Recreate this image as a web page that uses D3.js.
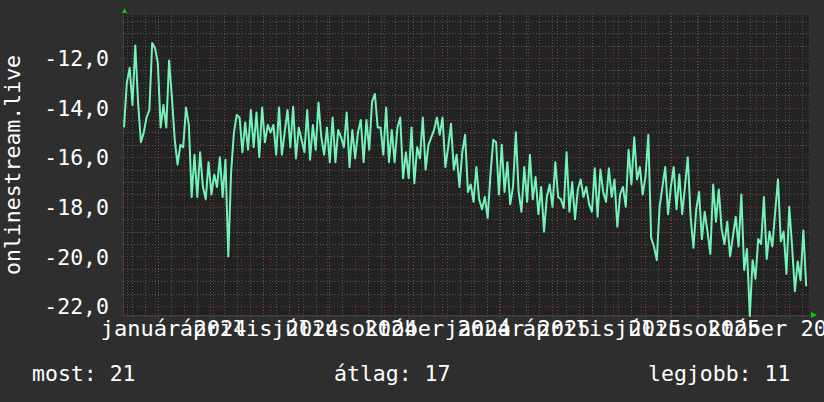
<!DOCTYPE html>
<html>
<head>
<meta charset="utf-8">
<script src="https://cdn.jsdelivr.net/npm/d3@7/dist/d3.min.js"></script>
<style>
  html, body { margin: 0; padding: 0; background: #2e2e2e; }
  svg { display: block; }
  text { font-family: "DejaVu Sans Mono", monospace; fill: #ffffff; }
</style>
</head>
<body>
<svg id="chart" width="824" height="402"></svg>
<script>
// ---- data ----
const startDate = "2023-10-29";
const stepDays = 3;
const values = [
  -14.8, -13.0, -12.4, -13.9, -11.5, -13.8, -15.4, -15.0, -14.4, -14.1,
  -11.4, -11.6, -12.2, -14.8, -13.9, -14.8, -12.1, -13.6, -15.3, -16.3,
  -15.5, -15.6, -14.0, -14.7, -17.6, -15.9, -17.6, -15.8, -17.2, -17.7,
  -16.2, -17.5, -16.7, -17.2, -16.0, -17.6, -16.1, -20.0, -16.6, -15.0,
  -14.3, -14.4, -15.8, -14.6, -15.7, -14.1, -15.6, -14.2, -16.0, -14.0,
  -15.4, -14.7, -15.0, -14.7, -15.9, -14.0, -15.9, -15.0, -14.1, -15.6,
  -13.97, -16.05, -14.8, -15.3, -15.8, -14.1, -16.1, -14.7, -15.7, -13.8,
  -15.2, -15.9, -14.8, -16.2, -14.4, -16.2, -14.9, -15.2, -15.6, -14.2,
  -16.4, -14.9, -16.05, -15.0, -14.5, -16.2, -14.5, -15.7, -13.76, -13.45,
  -14.8, -14.8, -15.9, -14.0, -16.2, -14.9, -16.2, -14.8, -14.4, -16.85,
  -15.8, -16.85, -14.8, -17.05, -15.6, -16.05, -14.4, -16.5, -15.5, -15.2,
  -14.9, -14.4, -15.1, -14.4, -16.4, -15.6, -14.65, -16.5, -15.9, -17.2,
  -15.8, -15.1, -17.4, -17.1, -17.8, -16.4, -17.7, -18.1, -17.6, -18.45,
  -16.7, -15.3, -15.4, -17.5, -15.5, -17.4, -16.2, -17.9, -17.2, -15.0,
  -17.4, -18.2, -16.4, -17.8, -15.9, -17.7, -16.8, -18.3, -17.2, -19.0,
  -17.6, -17.1, -18.0, -16.2, -17.6, -17.7, -18.05, -15.8, -18.2, -17.0,
  -18.5, -17.3, -16.9, -17.6, -17.2, -17.9, -18.2, -16.45, -18.4, -16.5,
  -17.4, -17.8, -16.45, -17.6, -16.9, -18.8, -17.5, -17.2, -18.0, -15.7,
  -17.1, -15.2, -16.9, -16.4, -17.5, -16.8, -15.1, -19.25, -19.6, -20.15,
  -18.0, -17.2, -16.4, -18.3, -17.2, -16.4, -18.1, -16.7, -18.3, -17.2,
  -16.0, -18.4, -19.65, -18.1, -17.4, -19.3, -18.2, -19.0, -19.9, -17.1,
  -18.6, -17.3, -18.9, -19.5, -18.6, -20.0, -19.2, -18.4, -19.6, -17.5,
  -20.55, -19.7, -22.4, -20.15, -20.9, -19.3, -19.5, -17.6, -20.1, -19.0,
  -19.6, -18.2, -16.9, -19.4, -19.0, -20.7, -18.0, -19.6, -21.4, -20.2,
  -20.95, -18.95, -21.2
];
const xDomain = ["2023-10-29", "2025-10-27"];
const yDomain = [-22.36, -10.27];
const yTickValues = [-22, -20, -18, -16, -14, -12];
const xLabelDates = ["2024-01-01", "2024-04-01", "2024-07-01", "2024-10-01",
                     "2025-01-01", "2025-04-01", "2025-07-01", "2025-10-01"];
const xLabelTexts = ["január 2024", "április 2024", "július 2024", "október 2024",
                     "január 2025", "április 2025", "július 2025", "október 2025"];
const yTitle = "onlinestream.live";
const legendLabels = ["most", "átlag", "legjobb"];
const legendValues = [21, 17, 11];

// ---- layout ----
const W = 824, H = 402;
const L = 124, R = 809, T = 15, B = 315;
const parse = d3.utcParse("%Y-%m-%d");
const t0 = parse(startDate);
const points = values.map((v, i) => ({ date: d3.utcDay.offset(t0, i * stepDays), value: v }));

const x = d3.scaleUtc().domain(xDomain.map(parse)).range([L, R]);
const y = d3.scaleLinear().domain(yDomain).range([B, T]);

const loc = d3.formatLocale({ decimal: ",", thousands: " ", grouping: [3], currency: ["", ""], minus: "-" });
const fmt = loc.format(".1f");

const svg = d3.select("#chart");
svg.append("rect").attr("width", W).attr("height", H).attr("fill", "#2e2e2e");
svg.append("rect").attr("x", L).attr("y", T).attr("width", R - L).attr("height", B - T).attr("fill", "#222222");

const grid = svg.append("g");
// horizontal minor grid every 0.5
const yMinor = d3.range(-22, -10.2, 0.5).filter(v => v >= yDomain[0] && v <= yDomain[1]);
grid.selectAll(".hmin").data(yMinor.filter(v => !yTickValues.includes(v))).join("line")
  .attr("x1", L - 2).attr("x2", R + 2)
  .attr("y1", d => Math.round(y(d)) + 0.5).attr("y2", d => Math.round(y(d)) + 0.5)
  .attr("stroke", "#575757").attr("stroke-dasharray", "1,2");
// vertical minor grid every 2 weeks
const xMinor = d3.utcMonday.every(2).range(x.domain()[0], x.domain()[1]);
grid.selectAll(".vmin").data(xMinor).join("line")
  .attr("x1", d => Math.round(x(d)) + 0.5).attr("x2", d => Math.round(x(d)) + 0.5)
  .attr("y1", T - 2).attr("y2", B + 2)
  .attr("stroke", "#575757").attr("stroke-dasharray", "1,2");
// major grid
grid.selectAll(".hmaj").data(yTickValues).join("line")
  .attr("x1", L - 3).attr("x2", R + 2)
  .attr("y1", d => Math.round(y(d)) + 0.5).attr("y2", d => Math.round(y(d)) + 0.5)
  .attr("stroke", "#7e3333").attr("stroke-dasharray", "1,2");
const xMajor = d3.utcMonth.range(x.domain()[0], x.domain()[1]);
grid.selectAll(".vmaj").data(xMajor).join("line")
  .attr("x1", d => Math.round(x(d)) + 0.5).attr("x2", d => Math.round(x(d)) + 0.5)
  .attr("y1", T - 2).attr("y2", B + 3)
  .attr("stroke", "#7e3333").attr("stroke-dasharray", "1,2");

// axes lines
svg.append("line").attr("x1", L - 0.5).attr("x2", L - 0.5).attr("y1", B + 2).attr("y2", 12)
  .attr("stroke", "#404040");
svg.append("line").attr("x1", L - 3).attr("x2", R + 3).attr("y1", B + 0.5).attr("y2", B + 0.5)
  .attr("stroke", "#404040");
// arrows
svg.append("path").attr("d", "M122,13 L127,13 L124.5,8 Z").attr("fill", "#00cc00");
svg.append("path").attr("d", "M811,312 L811,318 L817,315 Z").attr("fill", "#00cc00");

// data line
svg.append("path").datum(points)
  .attr("fill", "none").attr("stroke", "#74f2b8").attr("stroke-width", 2)
  .attr("stroke-linejoin", "round")
  .attr("d", d3.line().x(d => x(d.date)).y(d => y(d.value)));

// y axis labels
const yAxis = svg.append("g").attr("transform", `translate(${L},0)`)
  .call(d3.axisLeft(y).tickValues(yTickValues).tickFormat(fmt).tickSize(0));
yAxis.select(".domain").remove();
yAxis.selectAll("text").attr("x", -15).attr("dy", "0.36em")
  .attr("font-size", 21.5).attr("font-family", "DejaVu Sans Mono").attr("fill", "#ffffff");

// x axis labels
const xAxis = svg.append("g").attr("transform", `translate(0,${B})`)
  .call(d3.axisBottom(x).tickValues(xLabelDates.map(parse))
    .tickFormat((d, i) => xLabelTexts[i]).tickSize(0));
xAxis.select(".domain").remove();
xAxis.selectAll("text").attr("y", 21).attr("dy", 0).attr("dx", -11)
  .attr("font-size", 22).attr("font-family", "DejaVu Sans Mono").attr("fill", "#ffffff");

// y title
svg.append("text").attr("transform", "translate(20,165) rotate(-90)")
  .attr("text-anchor", "middle").attr("font-size", 21.5).text(yTitle);

// legend
const legendX = [32, 334, 648];
svg.selectAll(".legend").data(legendLabels).join("text")
  .attr("x", (d, i) => legendX[i]).attr("y", 381).attr("font-size", 21.5)
  .attr("xml:space", "preserve")
  .text((d, i) => `${d}: ${legendValues[i]}`);
</script>
</body>
</html>
